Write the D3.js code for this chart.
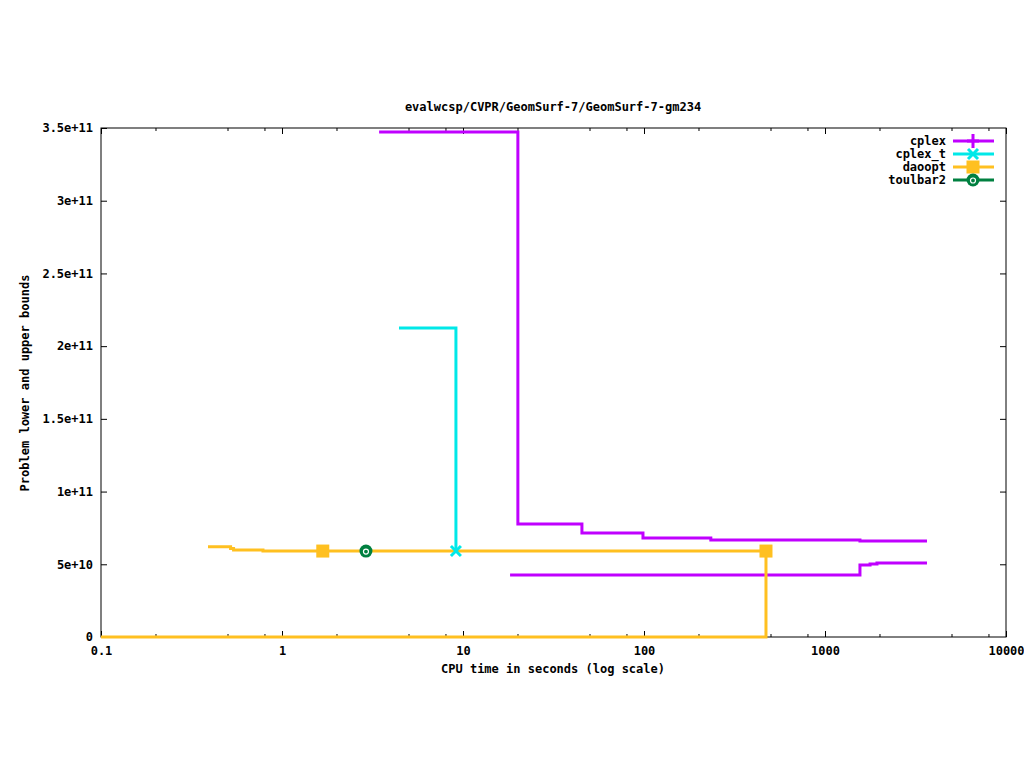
<!DOCTYPE html>
<html>
<head>
<meta charset="utf-8">
<script src="https://cdn.jsdelivr.net/npm/d3@7"></script>
<style>
  body { margin: 0; background: #fff; }
  svg text { font-family: "DejaVu Sans Mono", monospace; font-size: 12px; font-weight: bold; fill: #000; }
</style>
</head>
<body>
<svg class="chart" width="1024" height="768"></svg>
<script>
// Data: [time (s), bound]
let cplexUpper = [[3.44, 3.472e11], [20.1, 7.77e10], [45.4, 7.15e10], [98.7, 6.81e10], [234, 6.67e10], [1560, 6.6e10], [3660, 6.6e10]];
let cplexLower = [[18.2, 4.26e10], [1560, 4.95e10], [1774, 5.02e10], [1937, 5.09e10], [3660, 5.09e10]];
let cplexTUpper = [[4.43, 2.125e11], [9.14, 5.91e10]];
let daooptUpper = [[0.39, 6.2e10], [0.52, 6.08e10], [0.54, 5.98e10], [0.785, 5.91e10], [472, 5.91e10]];
let daooptLower = [[0.1, 0], [472, 5.91e10]];
let toulbarUpper = [[2.91, 5.91e10]];

// points where markers are drawn
let cplexTMarks = [[9.14, 5.91e10]];
let daooptMarks = [[1.68, 5.91e10], [472, 5.91e10]];
let toulbarMarks = [[2.91, 5.91e10]];

let xTicks = [0.1, 1, 10, 100, 1000, 10000];
let xTickLabels = ["0.1", "1", "10", "100", "1000", "10000"];
let xMinor = [0.2, 0.5, 0.8, 2, 5, 8, 20, 50, 80, 200, 500, 800, 2000, 5000, 8000];
let yTicks = [0, 5e10, 1e11, 1.5e11, 2e11, 2.5e11, 3e11, 3.5e11];
let yTickLabels = ["0", "5e+10", "1e+11", "1.5e+11", "2e+11", "2.5e+11", "3e+11", "3.5e+11"];

let seriesNames = ["cplex", "cplex_t", "daoopt", "toulbar2"];
let seriesColors = ["#c000ff", "#00e8e8", "#ffc020", "#008040"];

function drawMarker(g, kind, cx, cy, color) {
	if (kind == "plus") {
		g.append("path").attr("d", `M${cx - 6},${cy}H${cx + 6}M${cx},${cy - 7}V${cy + 7}`)
		 .attr("stroke", color).attr("stroke-width", 3).attr("fill", "none");
	} else if (kind == "cross") {
		g.append("path").attr("d", `M${cx - 5},${cy - 5}L${cx + 5},${cy + 5}M${cx - 5},${cy + 5}L${cx + 5},${cy - 5}`)
		 .attr("stroke", color).attr("stroke-width", 3).attr("fill", "none");
	} else if (kind == "square") {
		g.append("rect").attr("x", cx - 6.5).attr("y", cy - 6.5).attr("width", 13).attr("height", 13)
		 .attr("fill", color);
	} else {
		g.append("circle").attr("cx", cx).attr("cy", cy).attr("r", 6.5).attr("fill", color);
		g.append("circle").attr("cx", cx).attr("cy", cy + 0.5).attr("r", 2.5)
		 .attr("fill", "none").attr("stroke", "#fff").attr("stroke-width", 1.2);
	}
}

function plotChart() {
	var svg = d3.select(".chart");

	let margin = {left: 101, right: 18, top: 128, bottom: 131};
	let width = +svg.attr("width");
	let height = +svg.attr("height");
	let innerWidth = width - margin.left - margin.right;
	let innerHeight = height - margin.top - margin.bottom;

	var xScale = d3.scaleLog().domain([0.1, 10000]).range([0, innerWidth]);
	var yScale = d3.scaleLinear().domain([0, 3.5e11]).range([innerHeight, 0]);

	let g = svg.append("g").attr("transform", `translate(${margin.left}, ${margin.top})`);

	// axes with inward ticks, mirrored on top/right
	let xAxis = g.append("g").attr("transform", `translate(0, ${innerHeight})`)
	   .call(d3.axisBottom(xScale).tickValues(xTicks).tickFormat((d, i) => xTickLabels[i])
	          .tickSizeInner(-6).tickSizeOuter(0).tickPadding(9));
	g.append("g").call(d3.axisTop(xScale).tickValues(xTicks).tickFormat("").tickSizeInner(-6).tickSizeOuter(0));
	g.append("g").attr("transform", `translate(0, ${innerHeight})`)
	 .call(d3.axisBottom(xScale).tickValues(xMinor).tickFormat("").tickSizeInner(-3).tickSizeOuter(0));
	g.append("g").call(d3.axisTop(xScale).tickValues(xMinor).tickFormat("").tickSizeInner(-3).tickSizeOuter(0));

	g.append("g").call(d3.axisLeft(yScale).tickValues(yTicks).tickFormat((d, i) => yTickLabels[i])
	          .tickSizeInner(-6).tickSizeOuter(0).tickPadding(8));
	g.append("g").attr("transform", `translate(${innerWidth}, 0)`)
	 .call(d3.axisRight(yScale).tickValues(yTicks.slice(1, -1)).tickFormat("").tickSizeInner(-6).tickSizeOuter(0));

	g.selectAll(".domain").remove();
	g.selectAll(".tick line").attr("stroke", "#000");
	g.selectAll(".tick text").attr("font-family", null).attr("font-size", null).style("fill", "#000");

	g.append("rect").attr("width", innerWidth).attr("height", innerHeight)
	 .attr("fill", "none").attr("stroke", "#000").attr("stroke-width", 1);

	// clip the curves to the plot box
	svg.append("clipPath").attr("id", "box").append("rect")
	   .attr("x", -1).attr("y", -1).attr("width", innerWidth + 2).attr("height", innerHeight + 3);
	let plot = g.append("g").attr("clip-path", "url(#box)");

	let line = d3.line().curve(d3.curveStepAfter)
	             .x(d => xScale(d[0])).y(d => yScale(d[1]));

	let curves = [[cplexUpper, 0], [cplexLower, 0], [cplexTUpper, 1], [daooptUpper, 2], [daooptLower, 2], [toulbarUpper, 3]];
	for (let i = 0; i < curves.length; i++) {
		plot.append("path")
		    .datum(curves[i][0])
		    .attr("fill", "none")
		    .attr("stroke", seriesColors[curves[i][1]])
		    .attr("stroke-width", 3)
		    .attr("d", line);
	}

	let marks = [[cplexTMarks, "cross", 1], [daooptMarks, "square", 2], [toulbarMarks, "circle", 3]];
	for (let i = 0; i < marks.length; i++) {
		marks[i][0].forEach(p => drawMarker(plot, marks[i][1], xScale(p[0]), yScale(p[1]), seriesColors[marks[i][2]]));
	}

	// legend
	let kinds = ["plus", "cross", "square", "circle"];
	for (let i = 0; i < seriesNames.length; i++) {
		let y = 13 + 13 * i;
		g.append("text")
		 .attr("text-anchor", "end")
		 .attr("x", 845)
		 .attr("y", y)
		 .attr("dy", "0.35em")
		 .text(seriesNames[i]);
		g.append("line")
		 .attr("x1", 852).attr("x2", 893)
		 .attr("y1", y).attr("y2", y)
		 .attr("stroke", seriesColors[i]).attr("stroke-width", 3);
		drawMarker(g, kinds[i], 872, y, seriesColors[i]);
	}

	// labels
	svg.append("text")
	   .attr("text-anchor", "middle")
	   .attr("x", 553).attr("y", 111)
	   .text("evalwcsp/CVPR/GeomSurf-7/GeomSurf-7-gm234");
	svg.append("text")
	   .attr("text-anchor", "middle")
	   .attr("x", 553).attr("y", 673)
	   .text("CPU time in seconds (log scale)");
	svg.append("text")
	   .attr("text-anchor", "middle")
	   .attr("transform", "translate(29, 383) rotate(-90)")
	   .text("Problem lower and upper bounds");
}

plotChart();
</script>
</body>
</html>
